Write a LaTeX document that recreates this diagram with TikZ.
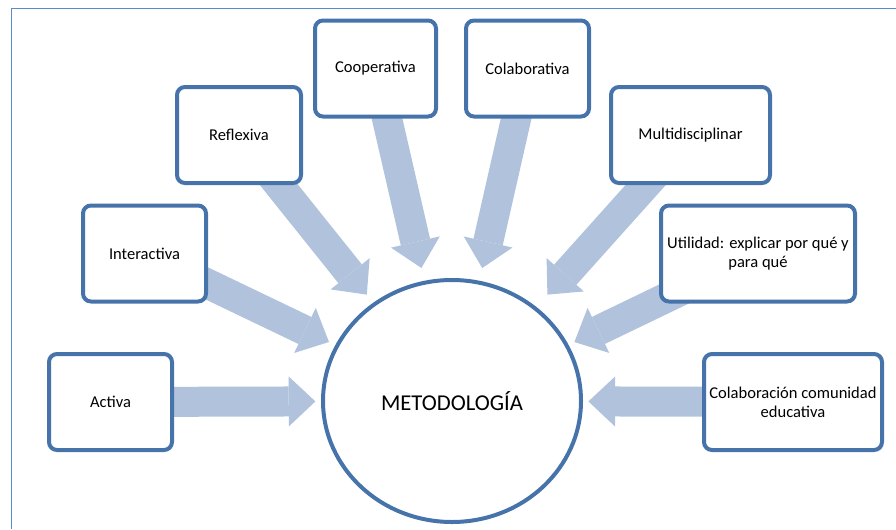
\documentclass[tikz,border=0pt]{standalone}
\usepackage{fontspec}
\setmainfont{Carlito}
\usetikzlibrary{arrows.meta,calc,backgrounds,shapes.geometric}

\definecolor{borde}{HTML}{4674AA}
\definecolor{flechaazul}{HTML}{B0C2DC}
\definecolor{marco}{HTML}{5B8BCB}

\tikzstyle{caja}=[draw=borde, line width=3pt, fill=white, rounded corners=6pt, minimum height=72pt, inner sep=2pt, align=center, font=\fontsize{12.4}{14.5}\selectfont]
\tikzstyle{flecha}=[draw=flechaazul, line width=22.5pt, -{Triangle[length=20pt,width=37.5pt,line width=0pt]}]

\begin{document}
\begin{tikzpicture}[x=0.75pt,y=-0.75pt]
\useasboundingbox (0,0) rectangle (896,529);

% CENTRO

\node[draw=borde, line width=3pt, ellipse, minimum width=193.5pt, minimum height=181.5pt, font=\fontsize{17}{20}\selectfont] (met) at (452,401) {METODOLOGÍA};

% CAJAS

\node[caja, minimum width=92.25pt] (activa) at (110.5,402) {Activa};
\node[caja, minimum width=92.25pt] (interactiva) at (144.5,253.5) {Interactiva};
\node[caja, minimum width=93pt] (reflexiva) at (239,135) {Reflexiva};
\node[caja, minimum width=90.75pt] (cooperativa) at (375.5,68.5) {Cooperativa};
\node[caja, minimum width=92.25pt] (colaborativa) at (527.5,68.5) {Colaborativa};
\node[caja, minimum width=119.25pt] (multi) at (690.5,135) {Multidisciplinar};
\node[caja, minimum width=145.5pt] (utilidad) at (758,253.5) {Utilidad: explicar por qué y\\para qué};
\node[caja, minimum width=133.5pt] (comunidad) at (793,402) {Colaboración comunidad\\educativa};

% FLECHAS

\begin{scope}[on background layer]
\foreach \c in {activa,interactiva,reflexiva,cooperativa,colaborativa,multi,utilidad,comunidad}
	\draw[flecha] (\c.center) -- ($(\c.center)!0.6!(met.center)$);
\draw[marco, line width=0.75pt] (11,529) -- (11,8) -- (896,8);
\end{scope}

\end{tikzpicture}
\end{document}
